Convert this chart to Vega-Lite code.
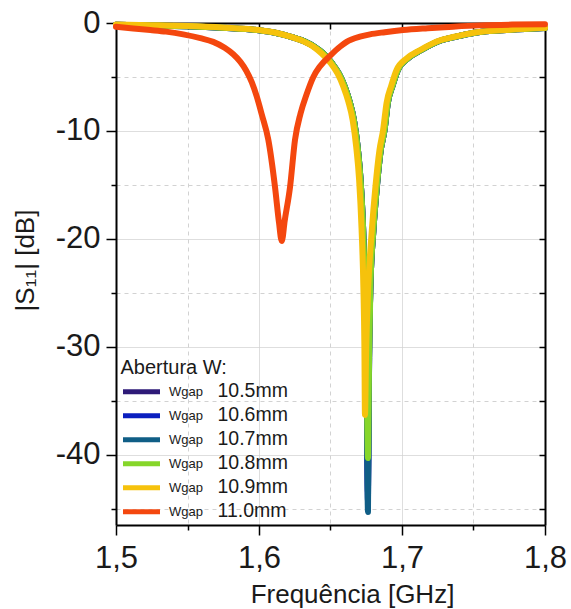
{
  "$schema": "https://vega.github.io/schema/vega-lite/v6.json",
  "width": 429,
  "height": 502,
  "autosize": {"type": "none"},
  "padding": {"left": 116, "top": 23, "right": 26, "bottom": 84},
  "background": "white",
  "config": {
    "view": {"stroke": null},
    "font": "Liberation Sans",
    "axis": {
      "domainColor": "#000000",
      "domainWidth": 2,
      "tickColor": "#000000",
      "tickWidth": 1.5,
      "labelColor": "#1a1a1a",
      "titleColor": "#1a1a1a",
      "labelFont": "Liberation Sans",
      "titleFont": "Liberation Sans",
      "titleFontWeight": "normal",
      "labelFontSize": 31,
      "titleFontSize": 26,
      "gridColor": "#d2d2d2",
      "gridWidth": 1
    },
    "legend": {
      "labelFont": "Liberation Sans",
      "titleFont": "Liberation Sans",
      "labelColor": "#1a1a1a",
      "titleColor": "#1a1a1a"
    }
  },
  "data": {
    "values": [
      {"w":"10.5mm","f":1.500,"db":-0.17},{"w":"10.5mm","f":1.525,"db":-0.22},{"w":"10.5mm","f":1.550,"db":-0.30},{"w":"10.5mm","f":1.575,"db":-0.45},{"w":"10.5mm","f":1.600,"db":-0.68},{"w":"10.5mm","f":1.612,"db":-0.93},{"w":"10.5mm","f":1.623,"db":-1.30},{"w":"10.5mm","f":1.632,"db":-1.72},{"w":"10.5mm","f":1.639,"db":-2.22},{"w":"10.5mm","f":1.645,"db":-2.82},{"w":"10.5mm","f":1.651,"db":-3.72},{"w":"10.5mm","f":1.656,"db":-4.72},{"w":"10.5mm","f":1.660,"db":-5.9},{"w":"10.5mm","f":1.6634,"db":-7.3},{"w":"10.5mm","f":1.6664,"db":-9.0},{"w":"10.5mm","f":1.669,"db":-11.5},{"w":"10.5mm","f":1.671,"db":-14.5},{"w":"10.5mm","f":1.6728,"db":-19.0},{"w":"10.5mm","f":1.6742,"db":-25.0},{"w":"10.5mm","f":1.6752,"db":-31.0},{"w":"10.5mm","f":1.6762,"db":-43.5},{"w":"10.5mm","f":1.6770,"db":-31.0},{"w":"10.5mm","f":1.6779,"db":-24.5},{"w":"10.5mm","f":1.6800,"db":-19.2},{"w":"10.5mm","f":1.6824,"db":-15.2},{"w":"10.5mm","f":1.6851,"db":-11.8},{"w":"10.5mm","f":1.6878,"db":-9.9},{"w":"10.5mm","f":1.6901,"db":-7.4},{"w":"10.5mm","f":1.6934,"db":-5.8},{"w":"10.5mm","f":1.6971,"db":-4.35},{"w":"10.5mm","f":1.704,"db":-3.3},{"w":"10.5mm","f":1.7136,"db":-2.5},{"w":"10.5mm","f":1.7276,"db":-1.6},{"w":"10.5mm","f":1.7367,"db":-1.3},{"w":"10.5mm","f":1.751,"db":-0.9},{"w":"10.5mm","f":1.776,"db":-0.63},{"w":"10.5mm","f":1.800,"db":-0.47},

      {"w":"10.6mm","f":1.500,"db":-0.17},{"w":"10.6mm","f":1.525,"db":-0.22},{"w":"10.6mm","f":1.550,"db":-0.30},{"w":"10.6mm","f":1.575,"db":-0.45},{"w":"10.6mm","f":1.600,"db":-0.68},{"w":"10.6mm","f":1.612,"db":-0.93},{"w":"10.6mm","f":1.623,"db":-1.30},{"w":"10.6mm","f":1.632,"db":-1.72},{"w":"10.6mm","f":1.639,"db":-2.22},{"w":"10.6mm","f":1.645,"db":-2.82},{"w":"10.6mm","f":1.651,"db":-3.72},{"w":"10.6mm","f":1.656,"db":-4.72},{"w":"10.6mm","f":1.660,"db":-5.9},{"w":"10.6mm","f":1.6634,"db":-7.3},{"w":"10.6mm","f":1.6664,"db":-9.0},{"w":"10.6mm","f":1.669,"db":-11.5},{"w":"10.6mm","f":1.671,"db":-14.5},{"w":"10.6mm","f":1.6728,"db":-19.0},{"w":"10.6mm","f":1.6742,"db":-25.0},{"w":"10.6mm","f":1.6752,"db":-31.0},{"w":"10.6mm","f":1.6762,"db":-44.3},{"w":"10.6mm","f":1.6770,"db":-31.0},{"w":"10.6mm","f":1.6779,"db":-24.5},{"w":"10.6mm","f":1.6800,"db":-19.2},{"w":"10.6mm","f":1.6824,"db":-15.2},{"w":"10.6mm","f":1.6851,"db":-11.8},{"w":"10.6mm","f":1.6878,"db":-9.9},{"w":"10.6mm","f":1.6901,"db":-7.4},{"w":"10.6mm","f":1.6934,"db":-5.8},{"w":"10.6mm","f":1.6971,"db":-4.35},{"w":"10.6mm","f":1.704,"db":-3.3},{"w":"10.6mm","f":1.7136,"db":-2.5},{"w":"10.6mm","f":1.7276,"db":-1.6},{"w":"10.6mm","f":1.7367,"db":-1.3},{"w":"10.6mm","f":1.751,"db":-0.9},{"w":"10.6mm","f":1.776,"db":-0.63},{"w":"10.6mm","f":1.800,"db":-0.47},

      {"w":"10.7mm","f":1.500,"db":-0.17},{"w":"10.7mm","f":1.525,"db":-0.22},{"w":"10.7mm","f":1.550,"db":-0.30},{"w":"10.7mm","f":1.575,"db":-0.45},{"w":"10.7mm","f":1.600,"db":-0.68},{"w":"10.7mm","f":1.612,"db":-0.93},{"w":"10.7mm","f":1.623,"db":-1.30},{"w":"10.7mm","f":1.632,"db":-1.72},{"w":"10.7mm","f":1.639,"db":-2.22},{"w":"10.7mm","f":1.645,"db":-2.82},{"w":"10.7mm","f":1.651,"db":-3.72},{"w":"10.7mm","f":1.656,"db":-4.72},{"w":"10.7mm","f":1.660,"db":-5.9},{"w":"10.7mm","f":1.6634,"db":-7.3},{"w":"10.7mm","f":1.6664,"db":-9.0},{"w":"10.7mm","f":1.669,"db":-11.5},{"w":"10.7mm","f":1.671,"db":-14.5},{"w":"10.7mm","f":1.6728,"db":-19.0},{"w":"10.7mm","f":1.6742,"db":-25.0},{"w":"10.7mm","f":1.6752,"db":-31.0},{"w":"10.7mm","f":1.6762,"db":-45.3},{"w":"10.7mm","f":1.6770,"db":-31.0},{"w":"10.7mm","f":1.6779,"db":-24.5},{"w":"10.7mm","f":1.6800,"db":-19.2},{"w":"10.7mm","f":1.6824,"db":-15.2},{"w":"10.7mm","f":1.6851,"db":-11.8},{"w":"10.7mm","f":1.6878,"db":-9.9},{"w":"10.7mm","f":1.6901,"db":-7.4},{"w":"10.7mm","f":1.6934,"db":-5.8},{"w":"10.7mm","f":1.6971,"db":-4.35},{"w":"10.7mm","f":1.704,"db":-3.3},{"w":"10.7mm","f":1.7136,"db":-2.5},{"w":"10.7mm","f":1.7276,"db":-1.6},{"w":"10.7mm","f":1.7367,"db":-1.3},{"w":"10.7mm","f":1.751,"db":-0.9},{"w":"10.7mm","f":1.776,"db":-0.63},{"w":"10.7mm","f":1.800,"db":-0.47},

      {"w":"10.8mm","f":1.500,"db":-0.17},{"w":"10.8mm","f":1.525,"db":-0.22},{"w":"10.8mm","f":1.550,"db":-0.30},{"w":"10.8mm","f":1.575,"db":-0.45},{"w":"10.8mm","f":1.600,"db":-0.68},{"w":"10.8mm","f":1.612,"db":-0.93},{"w":"10.8mm","f":1.623,"db":-1.30},{"w":"10.8mm","f":1.632,"db":-1.72},{"w":"10.8mm","f":1.639,"db":-2.22},{"w":"10.8mm","f":1.645,"db":-2.82},{"w":"10.8mm","f":1.651,"db":-3.72},{"w":"10.8mm","f":1.656,"db":-4.72},{"w":"10.8mm","f":1.660,"db":-5.9},{"w":"10.8mm","f":1.6634,"db":-7.3},{"w":"10.8mm","f":1.6664,"db":-9.0},{"w":"10.8mm","f":1.669,"db":-11.5},{"w":"10.8mm","f":1.671,"db":-14.5},{"w":"10.8mm","f":1.6728,"db":-19.0},{"w":"10.8mm","f":1.6742,"db":-25.0},{"w":"10.8mm","f":1.6752,"db":-31.0},{"w":"10.8mm","f":1.6762,"db":-40.3},{"w":"10.8mm","f":1.6770,"db":-31.0},{"w":"10.8mm","f":1.6779,"db":-24.5},{"w":"10.8mm","f":1.6800,"db":-19.2},{"w":"10.8mm","f":1.6824,"db":-15.2},{"w":"10.8mm","f":1.6851,"db":-11.8},{"w":"10.8mm","f":1.6878,"db":-9.9},{"w":"10.8mm","f":1.6901,"db":-7.4},{"w":"10.8mm","f":1.6934,"db":-5.8},{"w":"10.8mm","f":1.6971,"db":-4.35},{"w":"10.8mm","f":1.704,"db":-3.3},{"w":"10.8mm","f":1.7136,"db":-2.5},{"w":"10.8mm","f":1.7276,"db":-1.6},{"w":"10.8mm","f":1.7367,"db":-1.3},{"w":"10.8mm","f":1.751,"db":-0.9},{"w":"10.8mm","f":1.776,"db":-0.63},{"w":"10.8mm","f":1.800,"db":-0.47},

      {"w":"10.9mm","f":1.500,"db":-0.15},{"w":"10.9mm","f":1.525,"db":-0.20},{"w":"10.9mm","f":1.550,"db":-0.28},{"w":"10.9mm","f":1.575,"db":-0.42},{"w":"10.9mm","f":1.600,"db":-0.65},{"w":"10.9mm","f":1.612,"db":-0.90},{"w":"10.9mm","f":1.622,"db":-1.27},{"w":"10.9mm","f":1.631,"db":-1.70},{"w":"10.9mm","f":1.638,"db":-2.20},{"w":"10.9mm","f":1.644,"db":-2.85},{"w":"10.9mm","f":1.650,"db":-3.70},{"w":"10.9mm","f":1.655,"db":-4.70},{"w":"10.9mm","f":1.659,"db":-5.9},{"w":"10.9mm","f":1.6625,"db":-7.3},{"w":"10.9mm","f":1.6655,"db":-9.0},{"w":"10.9mm","f":1.668,"db":-11.5},{"w":"10.9mm","f":1.670,"db":-14.5},{"w":"10.9mm","f":1.6717,"db":-19.0},{"w":"10.9mm","f":1.6730,"db":-24.5},{"w":"10.9mm","f":1.6737,"db":-30.0},{"w":"10.9mm","f":1.6741,"db":-36.3},{"w":"10.9mm","f":1.6750,"db":-30.0},{"w":"10.9mm","f":1.6764,"db":-24.5},{"w":"10.9mm","f":1.6789,"db":-19.2},{"w":"10.9mm","f":1.6814,"db":-15.2},{"w":"10.9mm","f":1.6842,"db":-11.8},{"w":"10.9mm","f":1.6868,"db":-9.9},{"w":"10.9mm","f":1.6892,"db":-7.4},{"w":"10.9mm","f":1.6925,"db":-5.8},{"w":"10.9mm","f":1.6962,"db":-4.35},{"w":"10.9mm","f":1.703,"db":-3.3},{"w":"10.9mm","f":1.7126,"db":-2.5},{"w":"10.9mm","f":1.7266,"db":-1.6},{"w":"10.9mm","f":1.7357,"db":-1.3},{"w":"10.9mm","f":1.750,"db":-0.9},{"w":"10.9mm","f":1.775,"db":-0.62},{"w":"10.9mm","f":1.800,"db":-0.45},

      {"w":"11.0mm","f":1.500,"db":-0.35},{"w":"11.0mm","f":1.512,"db":-0.5},{"w":"11.0mm","f":1.524,"db":-0.65},{"w":"11.0mm","f":1.535,"db":-0.8},{"w":"11.0mm","f":1.547,"db":-1.05},{"w":"11.0mm","f":1.559,"db":-1.4},{"w":"11.0mm","f":1.568,"db":-1.75},{"w":"11.0mm","f":1.576,"db":-2.3},{"w":"11.0mm","f":1.582,"db":-2.9},{"w":"11.0mm","f":1.587,"db":-3.6},{"w":"11.0mm","f":1.591,"db":-4.4},{"w":"11.0mm","f":1.595,"db":-5.5},{"w":"11.0mm","f":1.5984,"db":-6.8},{"w":"11.0mm","f":1.602,"db":-8.5},{"w":"11.0mm","f":1.6065,"db":-10.8},{"w":"11.0mm","f":1.6112,"db":-15.2},{"w":"11.0mm","f":1.614,"db":-18.5},{"w":"11.0mm","f":1.6159,"db":-20.2},{"w":"11.0mm","f":1.618,"db":-18.3},{"w":"11.0mm","f":1.6217,"db":-15.2},{"w":"11.0mm","f":1.6252,"db":-10.8},{"w":"11.0mm","f":1.629,"db":-8.4},{"w":"11.0mm","f":1.6333,"db":-6.6},{"w":"11.0mm","f":1.638,"db":-5.0},{"w":"11.0mm","f":1.6427,"db":-4.0},{"w":"11.0mm","f":1.650,"db":-3.0},{"w":"11.0mm","f":1.6566,"db":-2.2},{"w":"11.0mm","f":1.6613,"db":-1.75},{"w":"11.0mm","f":1.6706,"db":-1.27},{"w":"11.0mm","f":1.6776,"db":-1.05},{"w":"11.0mm","f":1.688,"db":-0.85},{"w":"11.0mm","f":1.7007,"db":-0.65},{"w":"11.0mm","f":1.718,"db":-0.48},{"w":"11.0mm","f":1.7357,"db":-0.34},{"w":"11.0mm","f":1.7545,"db":-0.22},{"w":"11.0mm","f":1.777,"db":-0.15},{"w":"11.0mm","f":1.800,"db":-0.12}
    ]
  },
  "layer": [
    {
      "mark": {"type": "line", "interpolate": "monotone", "strokeJoin": "round", "strokeCap": "round"},
      "encoding": {
        "x": {
          "field": "f", "type": "quantitative",
          "scale": {"domain": [1.5, 1.8], "nice": false, "zero": false},
          "axis": {
            "orient": "bottom",
            "title": "Frequência [GHz]",
            "titleX": 236,
            "titlePadding": 8,
            "values": [1.5, 1.55, 1.6, 1.65, 1.7, 1.75, 1.8],
            "labelExpr": "abs(datum.value*10 - round(datum.value*10)) < 0.001 ? replace(format(datum.value, '.1f'), '.', ',') : ''",
            "labelPadding": 8,
            "labelFlush": false,
            "labelOverlap": false,
            "tickSize": {"condition": {"test": "abs(datum.value*10 - round(datum.value*10)) < 0.001", "value": 10}, "value": 5},
            "grid": true,
            "gridDash": {"condition": {"test": "abs(datum.value*10 - round(datum.value*10)) < 0.001", "value": [1, 0]}, "value": [4, 4]}
          }
        },
        "y": {
          "field": "db", "type": "quantitative",
          "scale": {"domain": [-46.5, 0], "nice": false, "zero": false},
          "axis": {
            "orient": "left",
            "title": "|S₁₁| [dB]",
            "titleY": 237,
            "titlePadding": 17,
            "values": [-45, -40, -35, -30, -25, -20, -15, -10, -5, 0],
            "labelExpr": "datum.value % 10 == 0 ? '' + datum.value : ''",
            "labelPadding": 6,
            "labelFlush": false,
            "labelOverlap": false,
            "tickSize": {"condition": {"test": "datum.value % 10 == 0", "value": 10}, "value": 5},
            "grid": true,
            "gridDash": {"condition": {"test": "datum.value % 10 == 0", "value": [1, 0]}, "value": [4, 4]}
          }
        },
        "color": {
          "field": "w", "type": "nominal",
          "scale": {
            "domain": ["10.5mm", "10.6mm", "10.7mm", "10.8mm", "10.9mm", "11.0mm"],
            "range": ["#2e1a78", "#0b1fbf", "#105e86", "#86d62a", "#f6c20c", "#f4470e"]
          },
          "legend": {
            "orient": "none",
            "legendX": 4.5,
            "legendY": 335,
            "title": "Abertura W:",
            "titleFontSize": 20,
            "titleFontWeight": "normal",
            "titlePadding": 2,
            "labelExpr": "'Wgap'",
            "labelFontSize": 13,
            "labelOffset": 6.5,
            "symbolType": "stroke",
            "symbolSize": 1369,
            "symbolStrokeWidth": 5,
            "clipHeight": 23.5,
            "rowPadding": 0,
            "padding": 0
          }
        },
        "strokeWidth": {
          "field": "w", "type": "ordinal",
          "scale": {
            "domain": ["10.5mm", "10.6mm", "10.7mm", "10.8mm", "10.9mm", "11.0mm"],
            "range": [6, 6, 6, 6, 6, 6]
          },
          "legend": {
            "orient": "bottom-left",
            "offset": 2,
            "title": null,
            "labelFontSize": 19.5,
            "labelOffset": 80,
            "symbolOpacity": 0,
            "symbolSize": 0,
            "symbolStrokeColor": "transparent",
            "symbolFillColor": "transparent",
            "clipHeight": 23.5,
            "rowPadding": 0,
            "padding": 0
          }
        }
      }
    },
    {
      "mark": {"type": "point", "opacity": 0},
      "encoding": {
        "x": {
          "field": "f", "type": "quantitative",
          "scale": {"domain": [1.5, 1.8], "nice": false, "zero": false},
          "axis": {"orient": "top", "title": null, "labels": false, "grid": false, "values": [1.55, 1.6, 1.65, 1.7, 1.75], "tickSize": -6}
        },
        "y": {
          "field": "db", "type": "quantitative",
          "scale": {"domain": [-46.5, 0], "nice": false, "zero": false},
          "axis": {"orient": "right", "title": null, "labels": false, "grid": false, "values": [-45, -40, -35, -30, -25, -20, -15, -10, -5], "tickSize": -6}
        }
      }
    }
  ],
  "resolve": {"axis": {"x": "independent", "y": "independent"}}
}
